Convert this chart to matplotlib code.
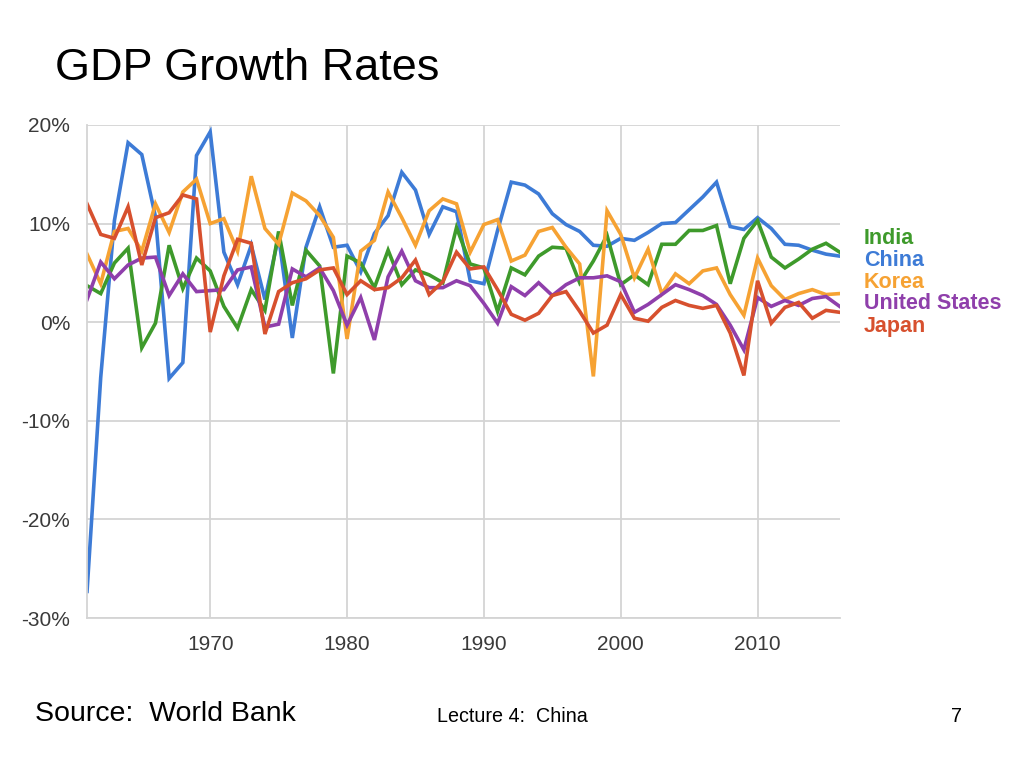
import matplotlib.pyplot as plt

years = list(range(1961, 2017))

# GDP growth, % per year (World Bank)
china = [-27.3, -5.6, 10.3, 18.2, 17.0, 10.7, -5.7, -4.1, 16.9, 19.3,
         7.1, 3.8, 7.8, 2.3, 8.7, -1.6, 7.6, 11.7, 7.6, 7.8,
         5.1, 9.0, 10.8, 15.2, 13.4, 8.9, 11.7, 11.2, 4.2, 3.9,
         9.3, 14.2, 13.9, 13.0, 11.0, 9.9, 9.2, 7.8, 7.7, 8.5,
         8.3, 9.1, 10.0, 10.1, 11.4, 12.7, 14.2, 9.7, 9.4, 10.6,
         9.5, 7.9, 7.8, 7.3, 6.9, 6.7]
india = [3.7, 2.9, 6.0, 7.5, -2.6, -0.1, 7.8, 3.4, 6.5, 5.2,
         1.6, -0.6, 3.3, 1.2, 9.2, 1.7, 7.3, 5.7, -5.2, 6.7,
         6.0, 3.5, 7.3, 3.8, 5.3, 4.8, 4.0, 9.6, 5.9, 5.5,
         1.1, 5.5, 4.8, 6.7, 7.6, 7.5, 4.0, 6.2, 8.8, 3.8,
         4.8, 3.8, 7.9, 7.9, 9.3, 9.3, 9.8, 3.9, 8.5, 10.3,
         6.6, 5.5, 6.4, 7.4, 8.0, 7.1]
korea = [6.9, 3.9, 9.2, 9.5, 7.2, 12.0, 9.1, 13.2, 14.5, 10.0,
         10.5, 7.2, 14.8, 9.5, 7.9, 13.1, 12.3, 10.8, 8.6, -1.7,
         7.2, 8.3, 13.2, 10.6, 7.8, 11.3, 12.5, 12.0, 7.1, 9.9,
         10.4, 6.2, 6.8, 9.2, 9.6, 7.6, 5.9, -5.5, 11.3, 8.9,
         4.5, 7.4, 2.9, 4.9, 3.9, 5.2, 5.5, 2.8, 0.7, 6.5,
         3.7, 2.3, 2.9, 3.3, 2.8, 2.9]
usa = [2.3, 6.1, 4.4, 5.8, 6.5, 6.6, 2.7, 4.9, 3.1, 3.2,
       3.3, 5.3, 5.6, -0.5, -0.2, 5.4, 4.6, 5.5, 3.2, -0.3,
       2.5, -1.8, 4.6, 7.2, 4.2, 3.5, 3.5, 4.2, 3.7, 1.9,
       -0.1, 3.6, 2.7, 4.0, 2.7, 3.8, 4.5, 4.5, 4.7, 4.1,
       1.0, 1.8, 2.8, 3.8, 3.3, 2.7, 1.8, -0.3, -2.8, 2.5,
       1.6, 2.2, 1.7, 2.4, 2.6, 1.6]
japan = [12.0, 8.9, 8.5, 11.7, 5.8, 10.6, 11.1, 12.9, 12.5, -1.0,
         4.7, 8.4, 8.0, -1.2, 3.1, 4.0, 4.4, 5.3, 5.5, 2.8,
         4.2, 3.3, 3.5, 4.5, 6.3, 2.8, 4.1, 7.1, 5.4, 5.6,
         3.3, 0.8, 0.2, 0.9, 2.7, 3.1, 1.1, -1.1, -0.3, 2.8,
         0.4, 0.1, 1.5, 2.2, 1.7, 1.4, 1.7, -1.1, -5.4, 4.2,
         -0.1, 1.5, 2.0, 0.4, 1.2, 1.0]

names = ['India', 'China', 'Korea', 'United States', 'Japan']
series = [india, china, korea, usa, japan]
colors = ['#3e9a2b', '#3d7bd6', '#f6a233', '#8f3fab', '#d7502e']
yticks = [20, 10, 0, -10, -20, -30]
xticks = [1970, 1980, 1990, 2000, 2010]

plt.rcParams['font.family'] = ['Liberation Sans', 'DejaVu Sans']

fig = plt.figure(figsize=(10.24, 7.68), dpi=100)
ax = fig.add_axes([0.085, 0.1953, 0.735, 0.642])

# draw order: China underneath, then others
order = [1, 0, 2, 3, 4]
for i in order:
    ax.plot(years, series[i], color=colors[i], linewidth=2.6, solid_joinstyle='miter')

ax.set_xlim(1961, 2016)
ax.set_ylim(-30, 20)
ax.set_yticks(yticks)
ax.set_yticklabels([str(v) + '%' for v in yticks])
ax.set_xticks(xticks)
ax.grid(True, color='#d4d4d4', linewidth=1.3)
ax.set_axisbelow(True)
for s in ['top', 'right']:
    ax.spines[s].set_visible(False)
for s in ['left', 'bottom']:
    ax.spines[s].set_color('#d4d4d4')
    ax.spines[s].set_linewidth(1.3)
ax.tick_params(length=0, labelsize=15, labelcolor='#3a3a3a', pad=12)
ax.tick_params(axis='y', pad=12)

# legend as coloured text
legend_y = [239, 260, 282, 304, 326]
for name, c, yy in zip(names, colors, legend_y):
    fig.text(864 / 1024, 1 - yy / 768, name, color=c, fontsize=15.5,
             fontweight='bold', va='center', ha='left')

fig.text(55 / 1024, 1 - 68 / 768, 'GDP Growth Rates', fontsize=32.4, va='center', ha='left')
fig.text(35 / 1024, 1 - 714 / 768, 'Source:  World Bank', fontsize=20.5, va='center', ha='left')
fig.text(437 / 1024, 1 - 717 / 768, 'Lecture 4:  China', fontsize=14.2, va='center', ha='left')
fig.text(957 / 1024, 1 - 717 / 768, '7', fontsize=14.2, va='center', ha='center')

fig.savefig('out.png', dpi=100)
